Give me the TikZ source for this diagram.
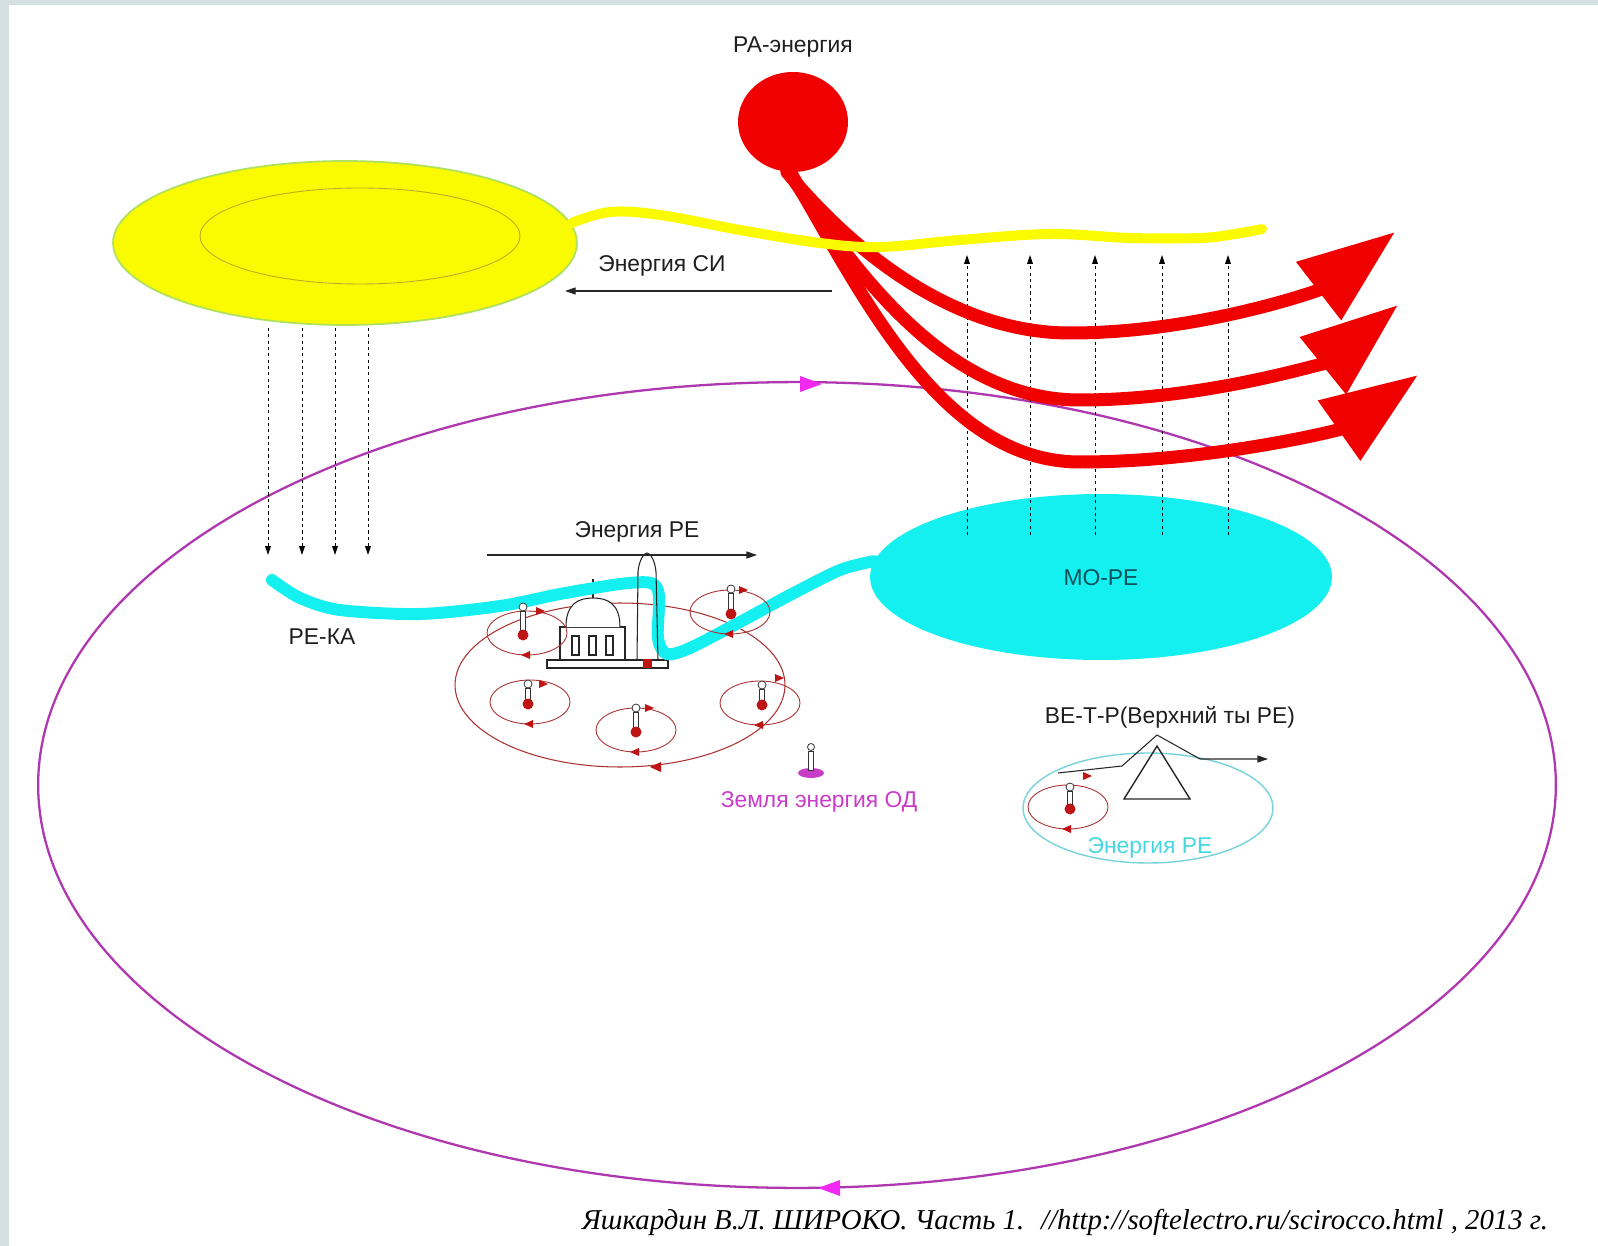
\documentclass[tikz,border=0pt]{standalone}
\usepackage{fontspec}
\setmainfont{Liberation Sans}
\newfontfamily\serifit{Liberation Serif}
\usetikzlibrary{shapes.geometric,arrows.meta}

\definecolor{bggray}{RGB}{212,224,226}
\definecolor{sunyellow}{RGB}{250,250,0}
\definecolor{sunedge}{RGB}{175,225,95}
\definecolor{innerline}{RGB}{195,170,40}
\definecolor{rared}{RGB}{240,0,0}
\definecolor{seacyan}{RGB}{20,240,240}
\definecolor{ringmag}{RGB}{175,55,175}
\definecolor{ringtip}{RGB}{240,40,240}
\definecolor{orbitred}{RGB}{170,50,50}
\definecolor{dotred}{RGB}{190,20,20}
\definecolor{betcyan}{RGB}{120,210,220}
\definecolor{moretext}{RGB}{15,80,90}
\definecolor{odmag}{RGB}{200,60,200}
\definecolor{txtgray}{RGB}{30,30,30}
\definecolor{betext}{RGB}{70,215,225}

\newcommand\orbitfig[6]{%
  \draw[orbitline] (#1,#2) ellipse [x radius=40, y radius=22];
  \fill[dotred] ({#1-6},{#2+22}) -- ++(9,-4) -- ++(0,8) -- cycle;
  \fill[dotred] (#5,#6) -- ++(-9,-4) -- ++(0,8) -- cycle;
  \draw[thermo] ({#3-2.5},{#4+4}) rectangle ({#3+2.5},{#2+2});
  \draw[thermo] (#3,#4) circle [radius=4];
  \fill[dotred] (#3,{#2+2}) circle [radius=5.5];
}

\begin{document}
\begin{tikzpicture}[x=0.02cm,y=-0.02cm,
  lbl/.style={font=\fontsize{13pt}{15pt}\selectfont, text=txtgray, inner sep=0pt},
  redflow/.style={draw=rared, line width=7.4pt, line cap=round, -{Triangle[length=55pt,width=40pt]}},
  dotarr/.style={draw=black, line width=0.55pt, dash pattern=on 1.8pt off 1.8pt, -{Triangle[length=5pt,width=3.2pt]}},
  thinarr/.style={draw=black!85, line width=0.6pt, -{Triangle[length=6pt,width=4pt]}},
  orbitline/.style={draw=orbitred, line width=0.5pt},
  thermo/.style={draw=black!80, line width=0.45pt, fill=white},
  mosq/.style={draw=black!85, line width=0.6pt},
  shell/.style={ellipse, inner sep=0pt}
]
\useasboundingbox (0,0) rectangle (1598,1246);
\fill[bggray] (0,0) rectangle (1598,1246);
\fill[white] (9,5) rectangle (1598,1246);

% big magenta orbit
\node[shell, draw=ringmag, line width=1.3pt, minimum width=30.36cm, minimum height=16.12cm] (ring) at (797,785) {};
\fill[ringtip] (822,384) -- (800,376) -- (800,392) -- cycle;
\fill[ringtip] (818,1188) -- (840,1180) -- (840,1196) -- cycle;

% sun ellipse
\node[shell, fill=sunyellow, draw=sunedge, line width=1pt, minimum width=9.28cm, minimum height=3.28cm] (sun) at (345,243) {};
\node[shell, draw=innerline, line width=0.5pt, minimum width=6.4cm, minimum height=1.92cm] (suncore) at (360,236) {};

% MO-PE
\node[shell, fill=seacyan, minimum width=9.24cm, minimum height=3.32cm] (more) at (1101,577) {};
\node[lbl, text=moretext] (moretxt) at (1101,578) {МО-РЕ};

% dotted arrows down
\foreach \xx in {268,302,335,368}{
  \coordinate (dt\xx) at (\xx,328);
  \coordinate (db\xx) at (\xx,555);
  \draw[dotarr] (dt\xx) -- (db\xx);
}
% dotted arrows up
\foreach \xx in {967,1030,1095,1162,1228}{
  \coordinate (ub\xx) at (\xx,535);
  \coordinate (ut\xx) at (\xx,255);
  \draw[dotarr] (ub\xx) -- (ut\xx);
}

% RA energy
\node[shell, fill=rared, minimum width=2.2cm, minimum height=2.0cm] (ra) at (793,122) {};
\node[lbl] (ratxt) at (793,47) {РА-энергия};
\coordinate (h1) at (1395,232);
\coordinate (h2) at (1398,305);
\coordinate (h3) at (1418,375);
\draw[redflow] (ra.263) .. controls (860,260) and (960,333) .. (1070,333)
   .. controls (1200,333) and (1320,290) .. (h1);
\draw[redflow] (ra.265) .. controls (860,280) and (950,400) .. (1080,400)
   .. controls (1210,400) and (1330,360) .. (h2);
\draw[redflow] (ra.267) .. controls (860,290) and (940,462) .. (1080,462)
   .. controls (1210,462) and (1340,430) .. (h3);

% yellow wave
\draw[draw=sunyellow, line width=5.7pt, line cap=round] plot[smooth, tension=0.6] coordinates
  {(sun.5) (610,212) (660,215) (740,230) (820,243) (880,247) (960,240) (1050,234) (1130,238) (1200,238) (1235,234) (1262,229)};

% Energy SI
\node[lbl] (sitxt) at (662,266) {Энергия СИ};
\coordinate (si1) at (832,291);
\coordinate (si2) at (565,291);
\draw[thinarr] (si1) -- (si2);

% town ellipse
\node[shell, draw=orbitred, line width=0.6pt, minimum width=6.6cm, minimum height=3.28cm] (town) at (620,685) {};
\fill[dotred] (650,767) -- (661,762) -- (661,772) -- cycle;

% mosque (under the river)
\draw[mosq, fill=white] (547,660) rectangle (668,668);
\draw[mosq, fill=white] (560,627) rectangle (625,660);
\draw[mosq, fill=white] (566,627) .. controls (566,604) and (578,598) .. (593,598) .. controls (608,598) and (620,604) .. (620,627);
\draw[mosq] (593,598) -- (593,579);
\foreach \wx in {572,589,606}{\draw[mosq] (\wx,636) rectangle ({\wx+7},655);}

% cyan river
\draw[draw=seacyan, line width=6.8pt, line cap=round] plot[smooth, tension=0.5] coordinates
  {(272,580) (300,598) (340,610) (420,614) (500,606) (560,594) (620,584) (651,583) (659,596) (658,638) (667,654) (690,648) (740,622) (790,595) (840,570) (more.176)};

% minaret over the river
\draw[mosq] (637,660) -- (638,572) .. controls (639,560) and (644,553) .. (647,553) .. controls (650,553) and (655,560) .. (656,572) -- (658,660);
\fill[dotred] (643,659) rectangle (652,668);

% orbits
\orbitfig{527}{633}{523}{607}{545}{611}
\orbitfig{730}{612}{731}{589}{748}{590}
\orbitfig{530}{702}{528}{684}{548}{684}
\orbitfig{636}{730}{636}{708}{654}{708}
\orbitfig{760}{703}{762}{685}{784}{678}

% Energy PE arrow
\node[lbl] (petxt) at (637,532) {Энергия РЕ};
\coordinate (pe1) at (487,555);
\coordinate (pe2) at (757,555);
\draw[thinarr] (pe1) -- (pe2);

\node[lbl] (rekatxt) at (322,637) {РЕ-КА};

% Earth OD
\fill[odmag] (811,773) ellipse [x radius=13, y radius=5];
\draw[thermo] (808.5,751) rectangle (813.5,770);
\draw[thermo] (811,747) circle [radius=3.5];
\node[lbl, text=odmag] (odtxt) at (819,802) {Земля энергия ОД};

% VE-T-R
\node[shell, draw=betcyan, line width=0.8pt, minimum width=5.0cm, minimum height=2.2cm] (bet) at (1148,808) {};
\node[lbl] (bettxt) at (1170,717) {ВЕ-Т-Р(Верхний ты РЕ)};
\coordinate (z0) at (1058,773);
\coordinate (z1) at (1122,766);
\coordinate (z2) at (1157,735);
\coordinate (z3) at (1200,759);
\coordinate (z4) at (1268,759);
\draw[thinarr] (z0) -- (z1) -- (z2) -- (z3) -- (z4);
\draw[mosq, line width=0.8pt] (1157,746) -- (1124,799) -- (1190,799) -- cycle;
\orbitfig{1068}{807}{1070}{787}{1092}{776}
\node[lbl, text=betext] (betpe) at (1150,848) {Энергия РЕ};

% footer
\node[inner sep=0pt, text=black] (foot) at (1065,1222) {\resizebox{19.32cm}{!}{\serifit\itshape Яшкардин В.Л. ШИРОКО. Часть 1. \ //http://softelectro.ru/scirocco.html , 2013 г.}};
\end{tikzpicture}
\end{document}
